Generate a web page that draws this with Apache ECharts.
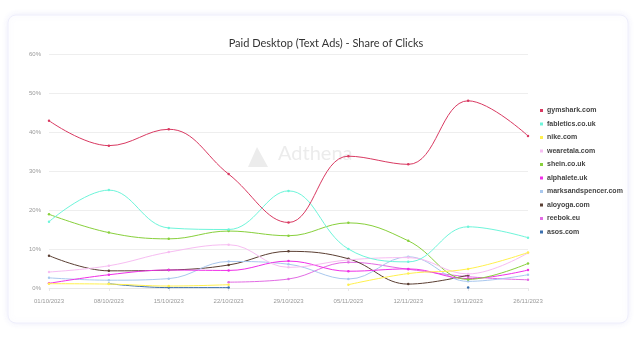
<!DOCTYPE html>
<html>
<head>
	<meta charset="UTF-8">
	<title>Paid Desktop (Text Ads) - Share of Clicks</title>
	<script src="https://cdn.jsdelivr.net/npm/echarts@6/dist/echarts.min.js"></script>
	<style>
		html, body { margin: 0; padding: 0; background: #fff; }
		#canvas { width: 636px; height: 352px; }
	</style>
</head>
<body>
	<div id="canvas"></div>
<script type="text/javascript">
	var weeks = ['01/10/2023', '08/10/2023', '15/10/2023', '22/10/2023', '29/10/2023',
		'05/11/2023', '12/11/2023', '19/11/2023', '26/11/2023'];
	var yTicks = ['0%', '10%', '20%', '30%', '40%', '50%', '60%'];

	var gymshark        = [42.9, 36.5, 40.7, 29.2, 16.8, 33.8, 31.7, 48.0, 39.0];
	var fabletics       = [17.0, 25.1, 15.4, 15.0, 24.9, 10.0, 6.7, 15.7, 12.9];
	var nike            = [1.1, 1.0, 0.5, 0.85, null, 0.85, 3.7, 4.9, 9.1];
	var wearetala       = [4.1, 5.7, 9.2, 11.1, 5.3, 7.2, 7.8, 3.6, 9.0];
	var shein           = [18.9, 14.2, 12.6, 14.6, 13.4, 16.7, 12.1, 2.2, 6.3];
	var alphalete       = [1.2, 3.4, 4.6, 4.5, 6.9, 4.3, 4.9, 2.4, 4.6];
	var marksandspencer = [2.6, 2.0, 2.4, 6.8, 6.1, 2.3, 8.0, 1.7, 3.4];
	var aloyoga         = [8.3, 4.4, 4.6, 5.9, 9.4, 7.5, 1.0, 3.3, null];
	var reebok          = [null, null, null, 1.5, 2.3, 6.6, 4.8, 2.9, 2.1];
	var asos            = [null, 1.1, 0.1, 0.1, null, null, null, 0.1, null];

	var names  = ['gymshark.com', 'fabletics.co.uk', 'nike.com', 'wearetala.com', 'shein.co.uk',
		'alphalete.uk', 'marksandspencer.com', 'aloyoga.com', 'reebok.eu', 'asos.com'];
	var values = [gymshark, fabletics, nike, wearetala, shein, alphalete, marksandspencer, aloyoga, reebok, asos];
	var colors = ['#d93a62', '#6ef5da', '#fff04d', '#f7bdf2', '#88d03c', '#f030e8', '#a9c8ee', '#5b3f33', '#e26ce4', '#3b6fae'];

	var myChart = echarts.init(document.getElementById('canvas'));

	var series = [];
	for (var i = 0; i < names.length; i++) {
		series.push({
			name: names[i],
			type: 'line',
			data: values[i],
			smooth: 0.4,
			connectNulls: false,
			symbol: 'circle',
			symbolSize: 2.5,
			showSymbol: true,
			lineStyle: { width: 1, color: colors[i] },
			itemStyle: { color: colors[i] },
			z: 10 - i
		});
	}

	option = {
		animation: false,
		title: {
			text: 'Paid Desktop (Text Ads) - Share of Clicks',
			left: 321,
			textAlign: 'center',
			top: 33,
			textStyle: { fontSize: 11, fontWeight: 'normal', color: '#333', fontFamily: 'Lato' }
		},
		graphic: [
			{
				type: 'rect', z: -10,
				shape: { x: 8, y: 15, width: 620, height: 308, r: 8 },
				style: { fill: '#fff', stroke: '#eeeefb', lineWidth: 1, shadowBlur: 6, shadowColor: 'rgba(120,120,220,0.12)' }
			},
			{
				type: 'polygon', z: -5,
				shape: { points: [[257, 147], [248, 167], [268, 167]] },
				style: { fill: '#ececec' }
			},
			{
				type: 'text', z: -5, left: 278, top: 144,
				style: { text: 'Adthena', fill: '#ececec', font: '20px Lato' }
			}
		],
		legend: {
			orient: 'vertical',
			left: 535,
			top: 102,
			itemWidth: 3,
			itemHeight: 3,
			itemGap: 6.5,
			icon: 'rect',
			data: names,
			textStyle: { fontSize: 7, fontWeight: 'bold', color: '#444', padding: [0, 0, 0, -1] }
		},
		grid: { left: 49, right: 108, top: 54, bottom: 64 },
		xAxis: {
			type: 'category',
			boundaryGap: false,
			data: weeks,
			axisLine: { lineStyle: { color: '#e8e8e8' } },
			axisTick: { show: true, length: 3, lineStyle: { color: '#e8e8e8' } },
			axisLabel: { fontSize: 6, color: '#999', margin: 10 }
		},
		yAxis: {
			type: 'value',
			min: 0,
			max: 60,
			interval: 10,
			axisLine: { show: false },
			axisTick: { show: false },
			splitLine: { lineStyle: { color: '#eeeeee' } },
			axisLabel: {
				fontSize: 6, color: '#999', margin: 8,
				formatter: function (v) { return yTicks[v / 10]; }
			}
		},
		series: series
	};

	myChart.setOption(option);
</script>
</body>
</html>
